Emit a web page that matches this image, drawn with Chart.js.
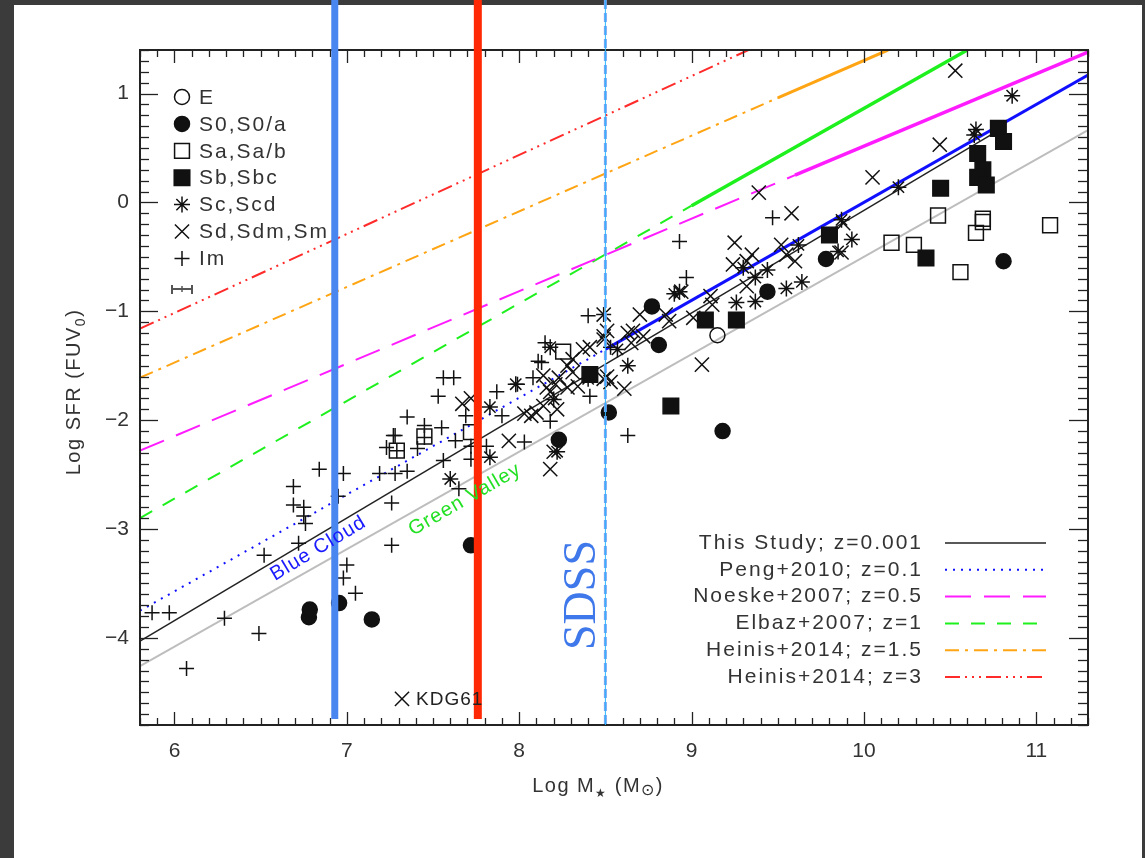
<!DOCTYPE html>
<html>
<head>
<meta charset="utf-8">
<script src="https://cdn.jsdelivr.net/npm/chart.js@4.4.1/dist/chart.umd.min.js"></script>
<style>
  html, body { margin: 0; padding: 0; }
  body { width: 1145px; height: 858px; background: #3b3b3b; position: relative; overflow: hidden; }
  #page { position: absolute; left: 14px; top: 5px; width: 1128px; height: 853px; background: #fff; }
  #wrap { position: absolute; left: 0; top: 0; width: 1145px; height: 858px; }
</style>
</head>
<body>
<div id="page"></div>
<div id="wrap"><canvas id="sfr" width="1145" height="858"></canvas></div>
<script>
const X_MIN = 5.8, X_MAX = 11.3;
const Y_MIN = -4.8, Y_MAX = 1.4;
const xTicks = [6, 7, 8, 9, 10, 11];
const yTicks = [-4, -3, -2, -1, 0, 1];

// galaxies, log M* vs log SFR, by morphological type
const eMass = [9.15];
const eSfr = [-1.22];
const s0Mass = [8.77, 8.81, 9.44, 9.78, 9.18, 10.81, 8.52, 8.23, 7.72, 6.78, 6.785, 6.955, 7.145];
const s0Sfr = [-0.955, -1.31, -0.82, -0.52, -2.10, -0.54, -1.93, -2.18, -3.15, -3.81, -3.74, -3.68, -3.83];
const saMass = [10.16, 10.29, 10.43, 10.56, 10.65, 10.69, 10.69, 11.08, 8.255, 7.29, 7.45, 7.72];
const saSfr = [-0.37, -0.39, -0.12, -0.64, -0.28, -0.15, -0.18, -0.21, -1.37, -2.28, -2.15, -2.11];
const sbMass = [10.78, 10.81, 10.66, 10.69, 10.66, 10.71, 10.445, 10.36, 9.08, 9.26, 9.80, 8.88, 8.41];
const sbSfr = [0.68, 0.56, 0.45, 0.30, 0.23, 0.16, 0.13, -0.51, -1.08, -1.08, -0.30, -1.87, -1.58];
const scMass = [10.86, 10.65, 10.64, 10.20, 9.87, 9.93, 9.85, 9.64, 9.55, 9.44, 9.37, 9.37, 9.26, 9.30,
  9.62, 8.90, 8.93, 8.63, 8.57, 8.18, 7.83, 7.83, 7.60, 7.98, 8.22, 8.20, 8.40];
const scSfr = [0.98, 0.67, 0.62, 0.14, -0.16, -0.34, -0.45, -0.73, -0.79, -0.62, -0.69, -0.91, -0.92, -0.60,
  -0.39, -0.84, -0.82, -1.50, -1.35, -1.33, -1.88, -2.34, -2.54, -1.67, -2.29, -1.81, -1.62];
const sdMass = [10.53, 10.44, 10.05, 9.88, 9.87, 9.58, 9.39, 9.25, 9.52, 9.60, 9.55, 9.35, 9.32, 9.24,
  9.32, 9.11, 9.12, 9.01, 8.94, 8.87, 8.85, 8.70, 8.66, 8.63, 8.72, 8.65, 9.06, 8.53, 8.61, 8.49,
  8.49, 8.51, 8.41, 8.49, 8.51, 8.49, 8.31, 8.28, 8.34, 8.28, 8.21, 8.18, 8.14, 8.22, 8.10, 8.07,
  8.03, 8.16, 8.23, 8.14, 7.67, 7.72, 7.94, 8.18, 8.20, 8.37, 8.31, 7.32];
const sdSfr = [1.21, 0.53, 0.23, -0.19, -0.46, -0.10, 0.09, -0.37, -0.39, -0.54, -0.48, -0.48, -0.54, -0.57,
  -0.77, -0.86, -0.94, -1.06, -0.82, -1.09, -1.03, -1.03, -1.18, -1.20, -1.23, -1.29, -1.49, -1.65, -1.71, -1.03,
  -1.23, -1.60, -1.33, -1.26, -1.18, -1.62, -1.44, -1.50, -1.69, -1.70, -1.67, -1.74, -1.87, -1.90, -1.93, -1.96,
  -1.94, -1.70, -1.61, -1.59, -1.85, -1.80, -2.19, -2.45, -2.29, -1.35, -1.56, -4.56];
const imMass = [5.87, 5.97, 6.07, 6.29, 6.49, 6.52, 6.69, 6.69, 6.75, 6.75, 6.76, 6.72, 6.84, 6.98, 6.95,
  7.00, 6.98, 7.05, 7.19, 7.26, 7.26, 7.27, 7.23, 7.28, 8.40, 8.49, 7.56, 7.62, 7.53, 7.35, 7.45, 7.55,
  7.28, 7.45, 7.29, 7.41, 7.35, 7.56, 7.63, 7.72, 7.72, 7.65, 7.69, 7.87, 7.90, 7.81, 8.03, 7.99, 8.08,
  8.11, 8.13, 8.15, 8.41, 8.53, 8.18, 8.93, 9.47, 8.97, 8.63];
const imSfr = [-3.77, -3.77, -4.28, -3.82, -3.96, -3.24, -2.61, -2.78, -2.80, -2.88, -2.95, -3.13, -2.45, -2.49, -2.70,
  -3.33, -3.45, -3.59, -2.49, -2.76, -3.15, -2.14, -2.25, -2.49, -1.04, -1.03, -1.61, -1.61, -1.78, -1.97, -2.05, -2.07,
  -2.14, -2.16, -2.28, -2.26, -2.47, -2.37, -2.19, -2.24, -2.36, -2.63, -1.96, -1.74, -1.96, -2.24, -2.20, -1.67, -1.61,
  -1.46, -1.47, -1.29, -1.78, -1.33, -2.01, -0.36, -0.14, -0.69, -2.14];

// main-sequence relations (end points of each segment)
const thisStudyMass = [5.8, 10.8], thisStudySfr = [-4.03, 0.68];
const valleyMass = [5.8, 11.3], valleySfr = [-4.26, 0.665];
const pengLowMass = [5.8, 8.5], pengLowSfr = [-3.75, -1.35];
const pengMass = [8.5, 11.3], pengSfr = [-1.35, 1.17];
const noeskeLowMass = [5.8, 9.6], noeskeLowSfr = [-2.28, 0.25];
const noeskeMass = [9.6, 11.3], noeskeSfr = [0.25, 1.38];
const elbazLowMass = [5.8, 9.0], elbazLowSfr = [-2.90, -0.03];
const elbazMass = [9.0, 10.6], elbazSfr = [-0.03, 1.40];
const heinis15LowMass = [5.8, 9.5], heinis15LowSfr = [-1.61, 0.96];
const heinis15Mass = [9.5, 10.14], heinis15Sfr = [0.96, 1.40];
const heinis3Mass = [5.8, 9.33], heinis3Sfr = [-1.16, 1.40];

// vertical mass markers
const bandMass = [6.93, 7.76];
const sdssMass = 8.5;
const kdgMass = 7.32, kdgSfr = -4.56;

const typeLabels = ["E", "S0,S0/a", "Sa,Sa/b", "Sb,Sbc", "Sc,Scd", "Sd,Sdm,Sm", "Im"];
const relLabels = ["This Study; z=0.001", "Peng+2010; z=0.1", "Noeske+2007; z=0.5",
  "Elbaz+2007; z=1", "Heinis+2014; z=1.5", "Heinis+2014; z=3"];

const FONT = '"Liberation Sans", Arial, sans-serif';
const INK = "#222";
const C_BLUE = "#1010ff", C_MAG = "#ff1cff", C_GREEN = "#1ef01e", C_ORANGE = "#ffa514", C_RED = "#ff2a2a";

const pts = (xs, ys) => xs.map((x, i) => ({ x, y: ys[i] }));

const rel = (xs, ys, color, width, dash) => ({
  data: pts(xs, ys),
  showLine: true,
  borderColor: color,
  backgroundColor: color,
  borderWidth: width,
  borderDash: dash,
  pointRadius: 0,
  order: 5,
});

const gal = (xs, ys, style, r, filled) => ({
  data: pts(xs, ys),
  pointStyle: style,
  pointRadius: r,
  pointHoverRadius: r,
  backgroundColor: filled ? "#111" : "rgba(0,0,0,0)",
  borderColor: "#111",
  borderWidth: 1.5,
  order: 1,
});

const markStyles = [
  ["circle", 7.5, false],
  ["circle", 7.5, true],
  ["rect", 10.5, false],
  ["rect", 11, true],
  ["star", 8, false],
  ["crossRot", 10, false],
  ["cross", 7.5, false],
];

const relStyles = [
  [INK, 1.4, []],
  [C_BLUE, 2, [2, 6]],
  [C_MAG, 2, [26, 13]],
  [C_GREEN, 2, [14, 12]],
  [C_ORANGE, 2, [14, 6, 3, 6]],
  [C_RED, 2, [15, 5, 2, 5, 2, 5, 2, 5]],
];

const fmt = (v) => (v < 0 ? "\u2212" + Math.abs(v) : String(v));

function drawMark(ctx, i, cx, cy) {
  const [style, r, filled] = markStyles[i];
  ctx.save();
  ctx.fillStyle = filled ? "#111" : "rgba(0,0,0,0)";
  ctx.strokeStyle = "#111";
  ctx.lineWidth = 1.5;
  Chart.helpers.drawPoint(ctx, { pointStyle: style, radius: r, borderWidth: 1.5, rotation: 0 }, cx, cy);
  ctx.restore();
}

function seg(ctx, x1, y1, x2, y2) {
  ctx.beginPath();
  ctx.moveTo(x1, y1);
  ctx.lineTo(x2, y2);
  ctx.stroke();
}

function richText(ctx, parts, x, y, align) {
  // parts: [text, size, dy]
  let total = 0;
  parts.forEach(([t, s]) => { ctx.font = `${s}px ${FONT}`; total += ctx.measureText(t).width; });
  let cx = align === "center" ? x - total / 2 : x;
  ctx.textAlign = "left";
  parts.forEach(([t, s, dy]) => {
    ctx.font = `${s}px ${FONT}`;
    ctx.fillText(t, cx, y + dy);
    cx += ctx.measureText(t).width;
  });
}

const decor = {
  id: "decor",
  afterDraw(chart) {
    const { ctx, chartArea: a, scales: { x, y } } = chart;
    ctx.save();

    // minor / major ticks on all four sides, pointing inward
    ctx.strokeStyle = INK;
    ctx.lineWidth = 1.3;
    for (let i = Math.round(X_MIN * 10); i <= Math.round(X_MAX * 10); i++) {
      const px = Math.round(x.getPixelForValue(i / 10)) + 0.5;
      const len = i % 10 === 0 ? 13 : 7;
      seg(ctx, px, a.bottom, px, a.bottom - len);
      seg(ctx, px, a.top, px, a.top + len);
    }
    for (let i = Math.round(Y_MIN * 10); i <= Math.round(Y_MAX * 10); i++) {
      const py = Math.round(y.getPixelForValue(i / 10)) + 0.5;
      const major = i % 10 === 0;
      seg(ctx, a.left, py, a.left + (major ? 18 : 9), py);
      seg(ctx, a.right, py, a.right - (major ? 19 : 10), py);
    }
    ctx.lineWidth = 2;
    ctx.strokeRect(a.left, a.top, a.right - a.left, a.bottom - a.top);

    // thick mass bands, from the top of the page
    const bandColors = ["#4a86f0", "#ff2a05"];
    const bandWidths = [7, 8];
    bandMass.forEach((m, i) => {
      const px = x.getPixelForValue(m);
      ctx.fillStyle = bandColors[i];
      ctx.fillRect(px - bandWidths[i] / 2, 0, bandWidths[i], a.bottom - 6);
    });

    // SDSS limit
    const sx = x.getPixelForValue(sdssMass);
    ctx.strokeStyle = "#7aa4f2";
    ctx.lineWidth = 3;
    ctx.setLineDash([9, 4]);
    seg(ctx, sx, 0, sx, a.bottom);
    ctx.setLineDash([]);
    ctx.strokeStyle = "#2cb4ff";
    ctx.lineWidth = 1;
    seg(ctx, sx, 0, sx, a.bottom);

    ctx.save();
    ctx.translate(sx - 22, 595);
    ctx.rotate(-Math.PI / 2);
    ctx.fillStyle = "#3f78ea";
    ctx.font = '46px "Liberation Serif", "Times New Roman", serif';
    ctx.textAlign = "center";
    ctx.textBaseline = "middle";
    ctx.fillText("SDSS", 0, 0);
    ctx.restore();

    // KDG61 label
    ctx.fillStyle = INK;
    ctx.font = `19px ${FONT}`;
    ctx.textAlign = "left";
    ctx.textBaseline = "middle";
    ctx.letterSpacing = "1px";
    ctx.fillText("KDG61", x.getPixelForValue(kdgMass) + 14, y.getPixelForValue(kdgSfr) + 1);

    // region labels along the lines
    ctx.textBaseline = "alphabetic";
    ctx.save();
    ctx.translate(275, 581);
    ctx.rotate(-31 * Math.PI / 180);
    ctx.fillStyle = "#1a1aff";
    ctx.font = `20px ${FONT}`;
    ctx.fillText("Blue Cloud", 0, 0);
    ctx.restore();
    ctx.save();
    ctx.translate(413, 536);
    ctx.rotate(-30 * Math.PI / 180);
    ctx.fillStyle = "#22e022";
    ctx.font = `20px ${FONT}`;
    ctx.fillText("Green Valley", 0, 0);
    ctx.restore();

    // morphology legend
    ctx.letterSpacing = "2px";
    ctx.fillStyle = "#333";
    ctx.font = `21px ${FONT}`;
    ctx.textBaseline = "middle";
    typeLabels.forEach((t, i) => {
      const ly = 97 + i * 26.9;
      drawMark(ctx, i, 182, ly);
      ctx.fillStyle = "#333";
      ctx.fillText(t, 199, ly + 1);
    });
    // typical error bar
    ctx.strokeStyle = "#555";
    ctx.lineWidth = 2;
    seg(ctx, 172, 289, 192, 289);
    seg(ctx, 172, 285, 172, 294);
    seg(ctx, 192, 285, 192, 294);
    ctx.lineWidth = 1.5;
    seg(ctx, 182, 286, 182, 292);

    // relations legend
    ctx.textAlign = "right";
    relLabels.forEach((t, i) => {
      const ly = 543 + i * 26.8;
      const [c, w, d] = relStyles[i];
      ctx.fillStyle = "#333";
      ctx.fillText(t, 923, ly);
      ctx.strokeStyle = c;
      ctx.lineWidth = w;
      ctx.setLineDash(d);
      seg(ctx, 945, ly, 1046, ly);
      ctx.setLineDash([]);
    });

    // axis titles
    ctx.letterSpacing = "1.5px";
    ctx.fillStyle = "#333";
    ctx.textBaseline = "alphabetic";
    ctx.save();
    ctx.translate(80, 392);
    ctx.rotate(-Math.PI / 2);
    richText(ctx, [["Log SFR (FUV", 20, 0], ["0", 14, 5], [")", 20, 0]], 0, 0, "center");
    ctx.restore();
    richText(ctx, [["Log M", 20, 0], ["\u2605", 12, 5], [" (M", 20, 0], ["\u2299", 16, 3], [")", 20, 0]], 598, 792, "center");

    ctx.restore();
  },
};

const tickFont = { family: FONT, size: 21 };

new Chart(document.getElementById("sfr"), {
  type: "scatter",
  data: {
    datasets: [
      gal(eMass, eSfr, ...markStyles[0]),
      gal(s0Mass, s0Sfr, ...markStyles[1]),
      gal(saMass, saSfr, ...markStyles[2]),
      gal(sbMass, sbSfr, ...markStyles[3]),
      gal(scMass, scSfr, ...markStyles[4]),
      gal(sdMass, sdSfr, ...markStyles[5]),
      gal(imMass, imSfr, ...markStyles[6]),
      rel(valleyMass, valleySfr, "#bdbdbd", 2, []),
      rel(thisStudyMass, thisStudySfr, INK, 1.4, []),
      rel(pengLowMass, pengLowSfr, C_BLUE, 2, [2, 6]),
      rel(pengMass, pengSfr, C_BLUE, 3, []),
      rel(noeskeLowMass, noeskeLowSfr, C_MAG, 2, [26, 13]),
      rel(noeskeMass, noeskeSfr, C_MAG, 3.5, []),
      rel(elbazLowMass, elbazLowSfr, C_GREEN, 2, [14, 12]),
      rel(elbazMass, elbazSfr, C_GREEN, 3.5, []),
      rel(heinis15LowMass, heinis15LowSfr, C_ORANGE, 2, [14, 6, 3, 6]),
      rel(heinis15Mass, heinis15Sfr, C_ORANGE, 3, []),
      rel(heinis3Mass, heinis3Sfr, C_RED, 2, [15, 5, 2, 5, 2, 5, 2, 5]),
    ],
  },
  options: {
    responsive: false,
    animation: false,
    events: [],
    layout: { padding: { top: 50, right: 57, left: 0, bottom: 0 } },
    plugins: { legend: { display: false }, tooltip: { enabled: false } },
    scales: {
      x: {
        type: "linear",
        min: X_MIN,
        max: X_MAX,
        afterFit: (s) => { s.height = 133; },
        afterBuildTicks: (s) => { s.ticks = xTicks.map((v) => ({ value: v })); },
        grid: { display: false, drawTicks: false },
        border: { display: false },
        ticks: { color: "#333", font: tickFont, padding: 14, maxRotation: 0, autoSkip: false, callback: fmt },
      },
      y: {
        type: "linear",
        min: Y_MIN,
        max: Y_MAX,
        afterFit: (s) => { s.width = 140; },
        afterBuildTicks: (s) => { s.ticks = yTicks.map((v) => ({ value: v })); },
        grid: { display: false, drawTicks: false },
        border: { display: false },
        ticks: { color: "#333", font: tickFont, padding: 11, autoSkip: false, callback: fmt },
      },
    },
  },
  plugins: [decor],
});
</script>
</body>
</html>
